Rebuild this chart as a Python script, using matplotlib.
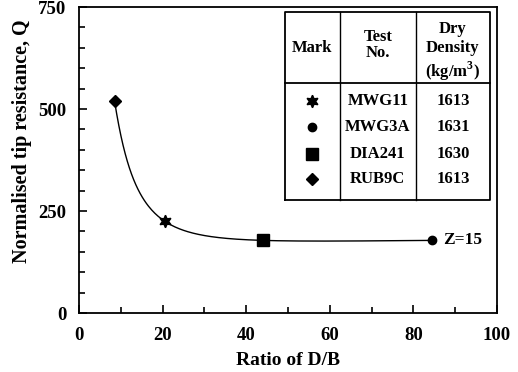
import numpy as np
import matplotlib
matplotlib.use('Agg')
import matplotlib.pyplot as plt
from matplotlib.ticker import MultipleLocator

# data
ratioDB = [8.5, 20.5, 44.0, 84.5]
tipQ = [520, 225, 178, 178]
marks = ['D', (6, 1, 0), 's', 'o']
markSizes = [6, 9, 9, 6]
markOrder = [1, 3, 2, 0]  # table row order: star, circle, square, diamond
testNames = ['MWG11', 'MWG3A', 'DIA241', 'RUB9C']
dryDensity = ['1613', '1631', '1630', '1613']
xTicks = [0, 20, 40, 60, 80, 100]
yTicks = [0, 250, 500, 750]


def main():
    plt.rcParams['font.family'] = ['Liberation Serif', 'DejaVu Serif']
    plt.rcParams['font.weight'] = 'bold'
    plt.rcParams['mathtext.fontset'] = 'custom'
    plt.rcParams['mathtext.bf'] = 'Liberation Serif:bold'
    plt.rcParams['mathtext.rm'] = 'Liberation Serif:bold'

    fig = plt.figure(figsize=(5.18, 3.72), dpi=100)
    ax = fig.add_axes([0.1525, 0.1586, 0.807, 0.8224])

    # smooth fitted curve through the points (cubic in 1/x)
    u = 1.0 / np.array(ratioDB)
    coef = np.polyfit(u, tipQ, 3)
    xs = np.linspace(ratioDB[0], ratioDB[-1], 300)
    ax.plot(xs, np.polyval(coef, 1.0 / xs), color='black', lw=1.0)

    for x, y, m, s in zip(ratioDB, tipQ, marks, markSizes):
        ax.plot(x, y, marker=m, color='black', markersize=s, linestyle='none')
    ax.text(ratioDB[-1] + 2.5, tipQ[-1], 'Z=15', fontsize=12.5, va='center', ha='left')

    ax.set_xlim(0, 100)
    ax.set_ylim(0, 750)
    ax.set_xticks(xTicks)
    ax.set_yticks(yTicks)
    ax.xaxis.set_minor_locator(MultipleLocator(10))
    ax.yaxis.set_minor_locator(MultipleLocator(50))
    ax.tick_params(which='both', direction='in', width=1.2, labelsize=13.5)
    ax.tick_params(which='major', length=6)
    ax.tick_params(which='minor', length=4)
    ax.tick_params(axis='x', pad=10)
    ax.tick_params(axis='y', pad=9)
    for sp in ax.spines.values():
        sp.set_linewidth(1.3)
    ax.set_xlabel('Ratio of D/B', fontsize=14, fontweight='bold')
    ax.set_ylabel('Normalised tip resistance, Q', fontsize=14.5, fontweight='bold')
    ax.xaxis.set_label_coords(0.5, -0.128)
    ax.yaxis.set_label_coords(-0.112, 0.56)

    # table drawn in axes coordinates
    left, right, top, bottom = 0.493, 0.983, 0.983, 0.37
    cols = [0.624, 0.806]
    headY = 0.752
    tr = ax.transAxes
    ax.plot([left, right, right, left, left], [bottom, bottom, top, top, bottom],
            color='black', lw=1.3, transform=tr)
    for c in cols:
        ax.plot([c, c], [bottom, top], color='black', lw=1.0, transform=tr)
    ax.plot([left, right], [headY, headY], color='black', lw=1.3, transform=tr)

    cx = [(left + cols[0]) / 2, (cols[0] + cols[1]) / 2, (cols[1] + right) / 2]
    hy = (top + headY) / 2
    fs = 12
    ax.text(cx[0], hy, 'Mark', transform=tr, ha='center', va='center', fontsize=fs)
    ax.text(cx[1], hy + 0.01, 'Test\nNo.', transform=tr, ha='center', va='center',
            fontsize=fs, linespacing=1.0)
    ax.text(cx[2], hy - 0.015, 'Dry\nDensity\n(kg/m$^{\\mathbf{3}}$)', transform=tr,
            ha='center', va='center', fontsize=fs, linespacing=1.25)

    rowY = [0.693, 0.607, 0.521, 0.439]
    for i, ry in enumerate(rowY):
        k = markOrder[i]
        ax.plot(cx[0], ry, marker=marks[k], color='black', markersize=markSizes[k],
                transform=tr, linestyle='none')
        ax.text(cx[1], ry, testNames[i], transform=tr, ha='center', va='center', fontsize=fs)
        ax.text(cx[2], ry, dryDensity[i], transform=tr, ha='center', va='center', fontsize=fs)

    fig.savefig('out.png', dpi=100)


if __name__ == '__main__':
    main()
